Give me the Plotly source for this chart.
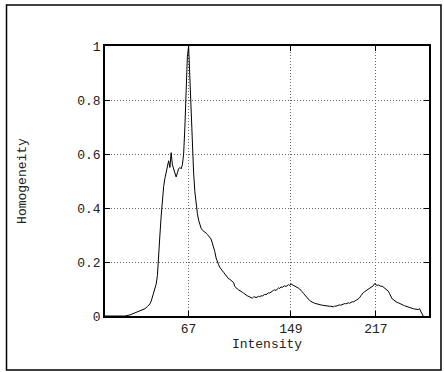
import plotly.graph_objects as go

intensity = [0, 16, 20, 23, 26, 28, 30, 32, 34] + list(range(36, 256))
homogeneity = [
    0.0, 0.0, 0.004, 0.01, 0.015, 0.02, 0.022, 0.027, 0.035,
    # 36-55
    0.045, 0.055, 0.07, 0.085, 0.1, 0.118, 0.15, 0.21, 0.3, 0.37,
    0.43, 0.48, 0.51, 0.535, 0.55, 0.575, 0.55, 0.605, 0.56, 0.545,
    # 56-75
    0.53, 0.515, 0.53, 0.545, 0.55, 0.545, 0.56, 0.6, 0.7, 0.85,
    0.96, 1.0, 0.88, 0.74, 0.6, 0.53, 0.46, 0.41, 0.38, 0.355,
    # 76-95
    0.335, 0.325, 0.318, 0.315, 0.312, 0.307, 0.302, 0.296, 0.292, 0.285,
    0.27, 0.255, 0.238, 0.215, 0.2, 0.19, 0.18, 0.172, 0.168, 0.162,
    # 96-115
    0.155, 0.148, 0.145, 0.138, 0.136, 0.132, 0.128, 0.124, 0.11, 0.104,
    0.1, 0.097, 0.093, 0.09, 0.088, 0.085, 0.08, 0.078, 0.075, 0.072,
    # 116-135
    0.07, 0.068, 0.066, 0.07, 0.071, 0.068, 0.072, 0.073, 0.071, 0.075,
    0.074, 0.078, 0.08, 0.079, 0.083, 0.086, 0.085, 0.089, 0.09, 0.095,
    # 136-155
    0.097, 0.094, 0.1, 0.104, 0.102, 0.108, 0.106, 0.11, 0.112, 0.109,
    0.114, 0.116, 0.113, 0.119, 0.116, 0.114, 0.112, 0.108, 0.106, 0.103,
    # 156-175
    0.1, 0.096, 0.09, 0.084, 0.078, 0.073, 0.066, 0.061, 0.057, 0.054,
    0.051, 0.049, 0.047, 0.046, 0.044, 0.043, 0.042, 0.041, 0.04, 0.039,
    # 176-195
    0.039, 0.038, 0.037, 0.037, 0.036, 0.036, 0.035, 0.034, 0.037, 0.036,
    0.038, 0.04, 0.041, 0.04, 0.043, 0.044, 0.046, 0.045, 0.048, 0.049,
    # 196-215
    0.047, 0.051, 0.053, 0.052, 0.056, 0.058, 0.06, 0.063, 0.068, 0.075,
    0.082, 0.087, 0.09, 0.093, 0.098, 0.1, 0.103, 0.106, 0.11, 0.112,
    # 216-235
    0.12, 0.115, 0.113, 0.115, 0.112, 0.11, 0.111, 0.107, 0.105, 0.1,
    0.096, 0.092, 0.083, 0.072, 0.064, 0.061, 0.057, 0.052, 0.05, 0.049,
    # 236-255
    0.046, 0.043, 0.042, 0.04, 0.038, 0.036, 0.034, 0.033, 0.031, 0.03,
    0.029, 0.027, 0.026, 0.025, 0.026, 0.024, 0.027, 0.02, 0.008, 0.0,
]

x_ticks = [67, 149, 217]
y_ticks = [0, 0.2, 0.4, 0.6, 0.8, 1]
y_tick_labels = ["0", "0.2", "0.4", "0.6", "0.8", "1"]

FONT = "Liberation Mono, Courier New, monospace"
TEXT_COLOR = "#222222"

fig = go.Figure(
    go.Scatter(
        x=intensity, y=homogeneity, mode="lines",
        line=dict(color="black", width=1), showlegend=False,
    )
)

axis_common = dict(
    showline=True, linecolor="black", linewidth=1.5, mirror="allticks",
    ticks="inside", ticklen=5, tickcolor="black",
    showgrid=True, gridcolor="#666666", griddash="1px,2px", gridwidth=1,
    zeroline=False,
    tickfont=dict(family=FONT, size=13, color=TEXT_COLOR),
)

fig.update_xaxes(
    range=[0, 259.6], tickvals=x_ticks, ticktext=[str(v) for v in x_ticks],
    title=dict(text="Intensity", font=dict(family=FONT, size=13, color=TEXT_COLOR), standoff=2),
    **axis_common,
)
fig.update_yaxes(
    range=[0, 1], tickvals=y_ticks, ticktext=y_tick_labels,
    title=dict(text="Homogeneity", font=dict(family=FONT, size=13, color=TEXT_COLOR), standoff=48),
    **axis_common,
)

fig.add_shape(
    type="rect", xref="paper", yref="paper",
    x0=-0.304, x1=1.037, y0=-0.2, y1=1.152,
    line=dict(color="black", width=1.5), layer="above",
)

fig.update_layout(
    width=444, height=372,
    margin=dict(l=105, r=15, t=46, b=56),
    paper_bgcolor="white", plot_bgcolor="white",
    font=dict(family=FONT, size=13, color=TEXT_COLOR),
)

fig.write_html("out.html")
